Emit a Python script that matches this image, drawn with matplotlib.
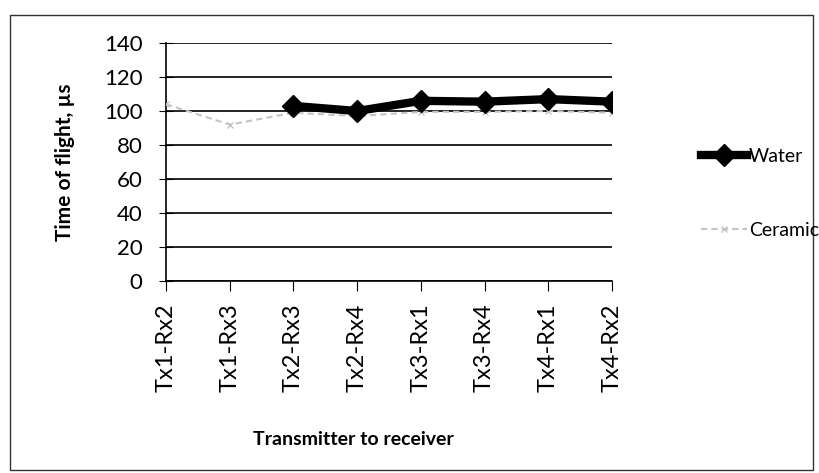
import matplotlib.pyplot as plt
import matplotlib.patches as patches
import numpy as np

plt.rcParams['font.family'] = ['Lato', 'DejaVu Sans']

pairs = ['Tx1-Rx2', 'Tx1-Rx3', 'Tx2-Rx3', 'Tx2-Rx4',
         'Tx3-Rx1', 'Tx3-Rx4', 'Tx4-Rx1', 'Tx4-Rx2']
water = [np.nan, np.nan, 103, 100, 106, 105.5, 107, 105.5]
ceramic = [104, 92, 99, 97, 99.5, 99.5, 100, 99]
yticks = [0, 20, 40, 60, 80, 100, 120, 140]

fig = plt.figure(figsize=(8.19, 4.73), dpi=100)
ax = fig.add_axes([0.2027, 0.406, 0.5446, 0.503])

x = np.arange(len(pairs))
ax.plot(x, ceramic, color='#c4c4c4', lw=1.5, ls=(0, (3, 2)), marker='x',
        ms=5, mew=1, label='Ceramic', zorder=3)
ax.plot(x, water, color='black', lw=6, marker='D', ms=11,
        label='Water', zorder=4)

ax.set_xlim(0, len(pairs) - 1)
ax.set_ylim(0, 140)
ax.set_yticks(yticks)
ax.set_xticks(x)
ax.set_xticklabels(pairs, rotation=90, fontsize=17)
ax.tick_params(axis='y', labelsize=16, direction='inout', length=10, pad=12)
ax.tick_params(axis='x', direction='out', length=7, pad=9)
ax.grid(axis='y', color='black', lw=1.2)
ax.set_axisbelow(True)
for s in ['top', 'right']:
    ax.spines[s].set_visible(False)
ax.spines['left'].set_linewidth(1.2)
ax.spines['bottom'].set_linewidth(1.2)

ax.set_ylabel('Time of flight, µs', fontsize=15, fontweight='bold')
ax.yaxis.set_label_coords(-0.205, 0.5)
ax.set_xlabel('Transmitter to receiver', fontsize=14, fontweight='bold')
ax.xaxis.set_label_coords(0.42, -0.63)

h, l = ax.get_legend_handles_labels()
fig.legend(h[::-1], l[::-1], loc='center left', bbox_to_anchor=(0.834, 0.591),
           frameon=False, fontsize=14, handlelength=2.4, handletextpad=0.1,
           labelspacing=2.9)

# chart area border
fig.patches.append(patches.Rectangle((10 / 819, 3 / 473), 803 / 819, 455 / 473,
                                     transform=fig.transFigure, fill=False,
                                     ec='#333333', lw=1))

fig.savefig('out.png', dpi=100)
